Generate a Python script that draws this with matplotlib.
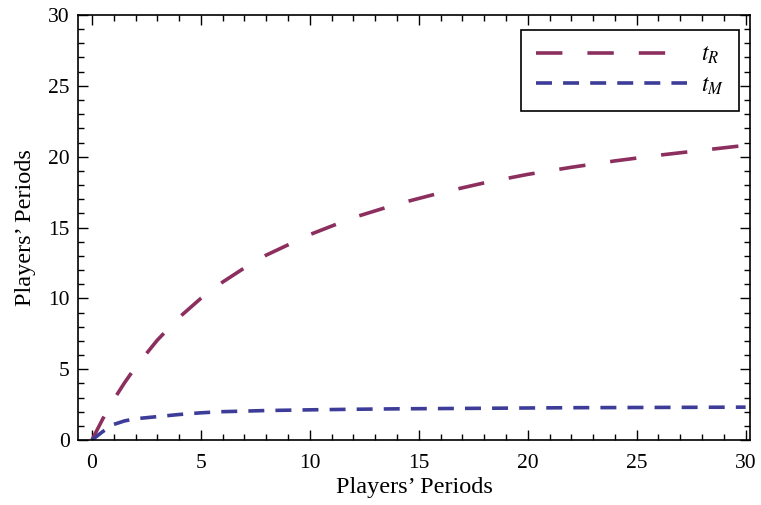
import matplotlib.pyplot as plt
import matplotlib
from matplotlib.ticker import MultipleLocator

matplotlib.rcParams['font.family'] = 'Liberation Serif'
matplotlib.rcParams['mathtext.fontset'] = 'stix'
matplotlib.rcParams['lines.scale_dashes'] = False

# values
x = [0, 0.5, 1, 1.5, 2, 3, 4, 5, 6, 7, 8, 10, 12, 14, 16, 18, 20, 22, 24, 26, 28, 30]
t_R = [0, 1.5, 2.85, 4.05, 5.15, 7.05, 8.65, 10.0, 11.15, 12.15, 13.05, 14.5,
       15.7, 16.65, 17.45, 18.15, 18.75, 19.25, 19.7, 20.1, 20.45, 20.8]
t_M = [0, 0.6, 1.1, 1.35, 1.5, 1.65, 1.8, 1.92, 2.0, 2.04, 2.08, 2.13,
       2.17, 2.2, 2.22, 2.24, 2.26, 2.28, 2.29, 2.3, 2.31, 2.32]

fig = plt.figure(figsize=(7.61, 5.05), dpi=100)
ax = fig.add_axes([0.1025, 0.1287, 0.883, 0.8416])

ax.plot(x, t_R, color='#8c2f5e', linewidth=2.6, dashes=(19, 18), label='$t_R$')
ax.plot(x, t_M, color='#3d3d99', linewidth=2.6, dashes=(11.5, 8), label='$t_M$')

ax.set_xlim(-0.64, 30.2)
ax.set_ylim(0, 30)
ax.xaxis.set_major_locator(MultipleLocator(5))
ax.xaxis.set_minor_locator(MultipleLocator(1))
ax.yaxis.set_major_locator(MultipleLocator(5))
ax.yaxis.set_minor_locator(MultipleLocator(1))
ax.tick_params(which='both', direction='in', top=True, right=True, width=1.0,
               labelsize=15.5)
ax.tick_params(axis='x', pad=10)
ax.tick_params(axis='y', pad=6)
ax.tick_params(which='major', length=7)
ax.tick_params(which='minor', length=4)
for s in ax.spines.values():
    s.set_linewidth(1.2)

ax.set_xlabel('Players\u2019 Periods', fontsize=17.5, labelpad=3)
ax.set_ylabel('Players\u2019 Periods', fontsize=17.5, labelpad=9)

leg = ax.legend(loc='upper right', bbox_to_anchor=(0.9836, 0.9647),
                fontsize=17, handlelength=6.4, frameon=True,
                fancybox=False, edgecolor='black', framealpha=1,
                borderaxespad=0, handletextpad=0.6, labelspacing=0.35,
                borderpad=0.62)
leg.get_frame().set_linewidth(1.2)

plt.savefig('out.png', dpi=100)
